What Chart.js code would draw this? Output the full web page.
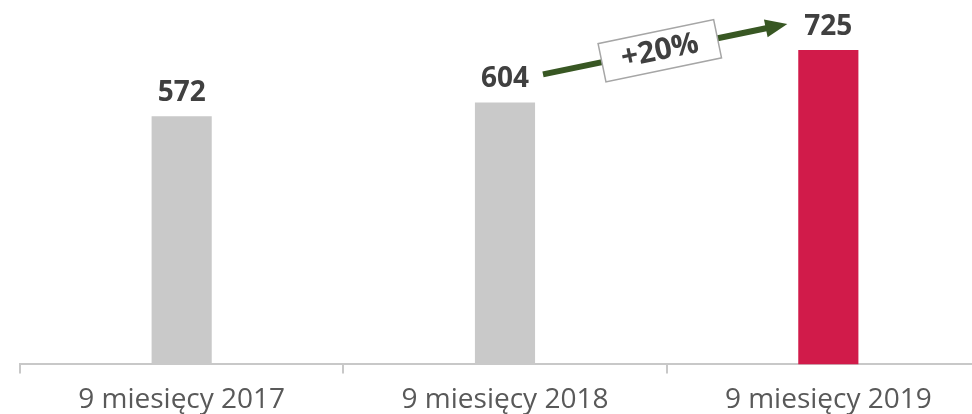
<!DOCTYPE html>
<html>
<head>
<meta charset="utf-8">
<script src="https://cdn.jsdelivr.net/npm/chart.js@4.4.1/dist/chart.umd.min.js"></script>
<style>
  html, body { margin: 0; padding: 0; background: #fff; overflow: hidden; }
  #wrap { position: absolute; left: 0; top: 0; width: 992px; height: 427px; }
</style>
</head>
<body>
<div id="wrap"><canvas id="chart"></canvas></div>
<script>
// Dane
const okresy = ["9 miesięcy 2017", "9 miesięcy 2018", "9 miesięcy 2019"];
const wartosci = [572, 604, 725];
const kolory = ["#c9c9c9", "#c9c9c9", "#d11b4a"];
const wzrost = "+20%";

// Etykiety wartości nad słupkami
const etykiety = {
    id: "etykiety",
    afterDatasetsDraw(chart) {
        const ctx = chart.ctx;
        const meta = chart.getDatasetMeta(0);
        ctx.save();
        ctx.font = "bold 28px 'Open Sans'";
        ctx.fillStyle = "#404040";
        ctx.textAlign = "center";
        ctx.textBaseline = "alphabetic";
        meta.data.forEach((bar, i) => {
            ctx.fillText(String(wartosci[i]), bar.x, bar.y - 15);
        });
        ctx.restore();
    }
};

// Strzałka wzrostu między 2018 a 2019
const strzalka = {
    id: "strzalka",
    afterDatasetsDraw(chart) {
        const ctx = chart.ctx;
        const meta = chart.getDatasetMeta(0);
        const a = meta.data[1], b = meta.data[2];
        const x1 = a.x + 38, y1 = a.y - 28;
        const x2 = b.x - 41, y2 = b.y - 26;
        const kat = Math.atan2(y2 - y1, x2 - x1);
        ctx.save();
        ctx.strokeStyle = "#385723";
        ctx.fillStyle = "#385723";
        ctx.lineWidth = 6;
        const dl = Math.hypot(x2 - x1, y2 - y1);
        ctx.translate(x1, y1);
        ctx.rotate(kat);
        ctx.beginPath();
        ctx.moveTo(0, 0);
        ctx.lineTo(dl - 18, 0);
        ctx.stroke();
        ctx.beginPath();
        ctx.moveTo(dl, 0);
        ctx.lineTo(dl - 22, -9);
        ctx.lineTo(dl - 22, 9);
        ctx.closePath();
        ctx.fill();
        // ramka z opisem
        const cx = (x1 + x2) / 2 - x1 - 3;
        ctx.translate(cx, 0);
        ctx.fillStyle = "#ffffff";
        ctx.fillRect(-59, -19, 118, 39);
        ctx.strokeStyle = "#a6a6a6";
        ctx.lineWidth = 1.5;
        ctx.strokeRect(-59, -19, 118, 39);
        ctx.fillStyle = "#404040";
        ctx.font = "bold 30px 'Open Sans'";
        ctx.textAlign = "center";
        ctx.textBaseline = "middle";
        ctx.fillText(wzrost, 0, 1);
        ctx.restore();
    }
};

new Chart(document.getElementById("chart"), {
    type: "bar",
    data: {
        labels: okresy,
        datasets: [{
            data: wartosci,
            backgroundColor: kolory,
            barPercentage: 0.62,
            categoryPercentage: 0.3
        }]
    },
    options: {
        responsive: true,
        maintainAspectRatio: false,
        animation: false,
        layout: { padding: { left: 20, right: 2, top: 0, bottom: 0 } },
        plugins: { legend: { display: false }, tooltip: { enabled: false } },
        scales: {
            x: {
                border: { color: "#c8c8c8", width: 2 },
                grid: { drawOnChartArea: false, color: "#c8c8c8", tickLength: 9, lineWidth: 2 },
                ticks: { color: "#595959", font: { family: "'Open Sans'", size: 28 }, padding: 10 }
            },
            y: { display: false, min: 0, max: 840 }
        }
    },
    plugins: [etykiety, strzalka]
});
</script>
</body>
</html>
